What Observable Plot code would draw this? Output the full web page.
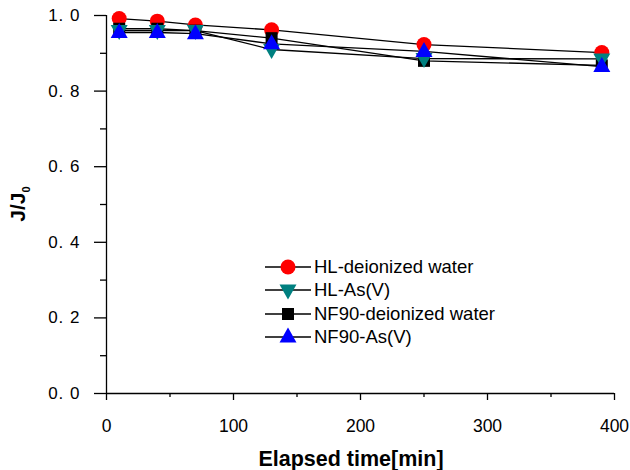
<!DOCTYPE html>
<html>
<head>
<meta charset="utf-8">
<script src="https://cdn.jsdelivr.net/npm/d3@7"></script>
<script src="https://cdn.jsdelivr.net/npm/@observablehq/plot@0.6"></script>
<style>
  html, body { margin: 0; padding: 0; background: #fff; }
  #wrap { position: relative; width: 630px; height: 470px; font-family: "Liberation Sans", Arial, sans-serif; }
  #legend { position: absolute; left: 265px; top: 255px; font-size: 18.5px; color: #000; }
  .row { display: flex; align-items: center; height: 23.5px; }
  .row svg { margin-right: 3px; }
  g[aria-label="y-axis tick label"] text { letter-spacing: 1px; }
</style>
</head>
<body>
<div id="wrap"><div id="legend"></div></div>
<script>
const times = [10, 40, 70, 130, 250, 390];
const seriesNames = ["HL-deionized water", "HL-As(V)", "NF90-deionized water", "NF90-As(V)"];
const hlDeionized = [0.992, 0.985, 0.975, 0.962, 0.923, 0.902];
const hlAs = [0.96, 0.96, 0.96, 0.91, 0.886, 0.885];
const nf90Deionized = [0.965, 0.965, 0.96, 0.94, 0.88, 0.868];
const nf90As = [0.955, 0.955, 0.952, 0.925, 0.905, 0.865];
const colors = ["#ff0000", "#008080", "#000000", "#0000ff"];
const yTicks = [0, 0.2, 0.4, 0.6, 0.8, 1.0];
const yMinor = [0.1, 0.3, 0.5, 0.7, 0.9];
const xTicks = [0, 100, 200, 300, 400];
const xMinor = [50, 150, 250, 350];

const valuesBySeries = [hlDeionized, hlAs, nf90Deionized, nf90As];

const circleSym = {draw(ctx) { ctx.moveTo(7.5, 0); ctx.arc(0, 0, 7.5, 0, 2 * Math.PI); }};
const upTri = {draw(ctx) { ctx.moveTo(0, -9.5); ctx.lineTo(8.5, 5.5); ctx.lineTo(-8.5, 5.5); ctx.closePath(); }};
const downTri = {draw(ctx) { ctx.moveTo(0, 9.5); ctx.lineTo(8.5, -5.5); ctx.lineTo(-8.5, -5.5); ctx.closePath(); }};
const squareSym = {draw(ctx) { ctx.rect(-6, -6, 12, 12); }};
const symbols = [circleSym, downTri, squareSym, upTri];

const data = [];
valuesBySeries.forEach((vals, s) => vals.forEach((v, i) => data.push({series: seriesNames[s], s, t: times[i], v})));

// draw order: red, black, teal, blue
const drawOrder = [0, 2, 1, 3];

const fmt = d => d3.format(".1f")(d).replace(".", ". ");

const marks = [];
drawOrder.forEach(s => {
  marks.push(Plot.line(data.filter(d => d.s === s), {x: "t", y: "v", stroke: "#000", strokeWidth: 1.3}));
});
drawOrder.forEach(s => {
  marks.push(Plot.dot(data.filter(d => d.s === s), {x: "t", y: "v", symbol: () => symbols[s], r: 7, fill: colors[s], stroke: "none"}));
});

const chart = Plot.plot({
  width: 630,
  height: 470,
  marginLeft: 106,
  marginRight: 16,
  marginTop: 15,
  marginBottom: 77,
  style: {fontFamily: "Liberation Sans, Arial, sans-serif", background: "#fff", overflow: "visible"},
  x: {domain: [0, 400]},
  y: {domain: [0, 1]},
  symbol: {type: "identity"},
  marks: [
    Plot.ruleX([0], {y1: 0, y2: 1, stroke: "#000", strokeWidth: 1.3}),
    Plot.ruleY([0], {x1: 0, x2: 400, stroke: "#000", strokeWidth: 1.3}),
    Plot.axisY(yTicks, {tickSize: 12, tickPadding: 14, tickFormat: fmt, fontSize: 17, label: null, strokeWidth: 1.3}),
    Plot.axisY(yMinor, {tickSize: 6, tickFormat: () => "", label: null, strokeWidth: 1.3}),
    Plot.axisX(xTicks, {tickSize: 7, tickPadding: 19, tickFormat: d => String(d), fontSize: 17.5, label: null, strokeWidth: 1.3}),
    Plot.axisX(xMinor, {tickSize: 4, tickFormat: () => "", label: null, strokeWidth: 1.3}),
    ...marks
  ]
});

const wrap = document.getElementById("wrap");
wrap.insertBefore(chart, wrap.firstChild);

// axis titles as SVG text
const svg = d3.select(chart.tagName === "svg" ? chart : chart.querySelector("svg"));
svg.append("text")
  .attr("x", 351).attr("y", 466)
  .attr("text-anchor", "middle")
  .attr("font-weight", "bold").attr("font-size", 21.5)
  .attr("font-family", "Liberation Sans, Arial, sans-serif")
  .text("Elapsed time[min]");
const yl = svg.append("text")
  .attr("transform", "translate(25,204) rotate(-90)")
  .attr("text-anchor", "middle")
  .attr("font-weight", "bold").attr("font-size", 21)
  .attr("font-family", "Liberation Sans, Arial, sans-serif");
yl.append("tspan").text("J/J");
yl.append("tspan").attr("font-size", 11).attr("dy", 5).text("0");

// legend
const legend = document.getElementById("legend");
const legendSyms = ['<circle cx="23" cy="10" r="7.5" fill="#ff0000"/>',
  '<path d="M14.5,4.5L31.5,4.5L23,19.5Z" fill="#008080"/>',
  '<rect x="17" y="4" width="12" height="12" fill="#000"/>',
  '<path d="M23,0.5L31.5,15.5L14.5,15.5Z" fill="#0000ff"/>'];
seriesNames.forEach((name, i) => {
  const row = document.createElement("div");
  row.className = "row";
  row.innerHTML = `<svg width="46" height="20"><line x1="0" x2="46" y1="10" y2="10" stroke="#000" stroke-width="1.3"/>${legendSyms[i]}</svg><span>${name}</span>`;
  legend.appendChild(row);
});
</script>
</body>
</html>
